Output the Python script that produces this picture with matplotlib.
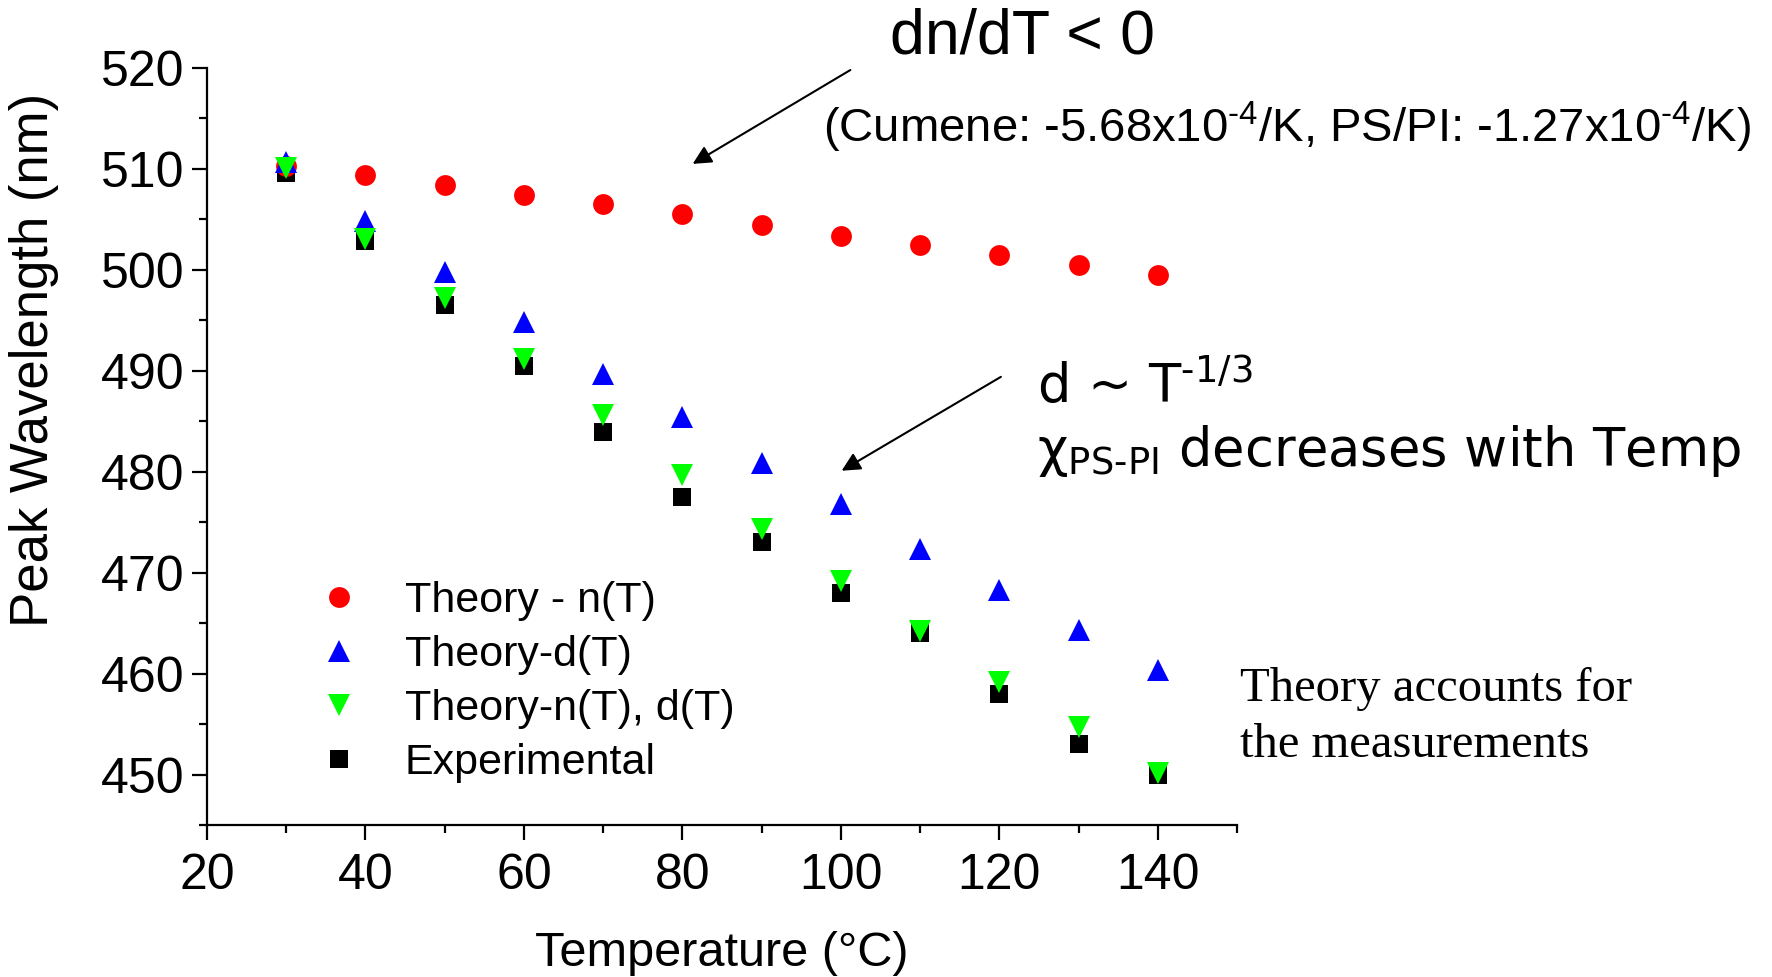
import matplotlib
matplotlib.use('Agg')
import matplotlib.pyplot as plt
from matplotlib.ticker import MultipleLocator

# ---- data ----
temperature = [30, 40, 50, 60, 70, 80, 90, 100, 110, 120, 130, 140]
theory_n = [510.3, 509.4, 508.4, 507.4, 506.5, 505.5, 504.4, 503.4, 502.5, 501.5, 500.5, 499.5]
theory_d = [510.7, 504.8, 499.8, 494.8, 489.7, 485.4, 480.9, 476.8, 472.3, 468.3, 464.3, 460.4]
theory_nd = [510.1, 503.1, 497.2, 491.2, 485.6, 479.7, 474.3, 469.2, 464.2, 459.2, 454.7, 450.2]
experimental = [509.6, 502.9, 496.5, 490.5, 483.9, 477.5, 473.0, 468.0, 464.0, 458.0, 453.0, 450.0]
labels = ['Theory - n(T)', 'Theory-d(T)', 'Theory-n(T), d(T)', 'Experimental']

W, H = 1772, 977
plt.rcParams['font.family'] = ['Liberation Sans', 'DejaVu Sans']
HY = '\u2010'  # hyphen (keeps mathtext from turning '-' into a long minus)

def fx(px):
    return px / W

def fy(py):
    return 1 - py / H

fig = plt.figure(figsize=(W / 100, H / 100), dpi=100)
ax = fig.add_axes([fx(207), fy(825), 1030 / W, (825 - 68) / H])

h_exp, = ax.plot(temperature, experimental, ls='none', marker='s', ms=13, mew=0,
                 color='black', label=labels[3], zorder=3)
h_n, = ax.plot(temperature, theory_n, ls='none', marker='o', ms=15, mew=0,
               color='#ff0000', label=labels[0], zorder=4)
h_d, = ax.plot(temperature, theory_d, ls='none', marker='^', ms=16, mew=0,
               color='#0000ff', label=labels[1], zorder=5)
h_nd, = ax.plot(temperature, theory_nd, ls='none', marker='v', ms=16, mew=0,
                color='#00ff00', label=labels[2], zorder=6)

ax.set_xlim(20, 150)
ax.set_ylim(445, 520)
ax.xaxis.set_major_locator(MultipleLocator(20))
ax.xaxis.set_minor_locator(MultipleLocator(10))
ax.yaxis.set_major_locator(MultipleLocator(10))
ax.yaxis.set_minor_locator(MultipleLocator(5))
for s in ['top', 'right']:
    ax.spines[s].set_visible(False)
for s in ['left', 'bottom']:
    ax.spines[s].set_linewidth(1.6)
ax.tick_params(which='major', direction='out', length=11, width=1.6, labelsize=36)
ax.tick_params(which='minor', direction='out', length=5.5, width=1.6)
ax.tick_params(axis='x', which='major', pad=9)
ax.tick_params(axis='y', which='major', pad=5)

fig.text(fx(34), fy(360), 'Peak Wavelength (nm)', rotation=90, ha='center', va='center', fontsize=38)
fig.text(fx(722), fy(953), 'Temperature (\u00b0C)', ha='center', va='center', fontsize=35)

leg = ax.legend(handles=[h_n, h_d, h_nd, h_exp], loc='center left',
                bbox_to_anchor=(fx(317.5), fy(682)), bbox_transform=fig.transFigure,
                frameon=False, fontsize=31, handlelength=1.0, handletextpad=1.03,
                labelspacing=0.33, borderpad=0, borderaxespad=0, numpoints=1)

# annotations
fig.text(fx(890), fy(54), 'dn/dT < 0', fontsize=45, ha='left', va='baseline')
fig.text(fx(823), fy(142),
         '(Cumene: -5.68x10$^{\\mathregular{' + HY + '4}}$/K, PS/PI: -1.27x10$^{\\mathregular{' + HY + '4}}$/K)',
         fontsize=34, ha='left', va='baseline')
fig.text(fx(1037), fy(403), 'd ~ T$^{\\mathregular{' + HY + '1/3}}$', family='DejaVu Sans',
         fontsize=38, ha='left', va='baseline')
fig.text(fx(1037), fy(466), '$\\mathregular{\u03c7}_{\\mathregular{PS' + HY + 'PI}}$ decreases with Temp',
         family='DejaVu Sans', fontsize=38, ha='left', va='baseline')
fig.text(fx(1240), fy(701), 'Theory accounts for', family='Liberation Serif',
         fontsize=35, ha='left', va='baseline')
fig.text(fx(1240), fy(757), 'the measurements', family='Liberation Serif',
         fontsize=35, ha='left', va='baseline')

arrow = dict(arrowstyle='-|>', color='black', lw=1.5, mutation_scale=28, shrinkA=0, shrinkB=0)
ax.annotate('', xy=(81.3, 510.5), xytext=(101.2, 519.8), arrowprops=arrow, annotation_clip=False)
ax.annotate('', xy=(100.1, 480.1), xytext=(120.2, 489.4), arrowprops=arrow, annotation_clip=False)

fig.savefig('out.png', dpi=100)
